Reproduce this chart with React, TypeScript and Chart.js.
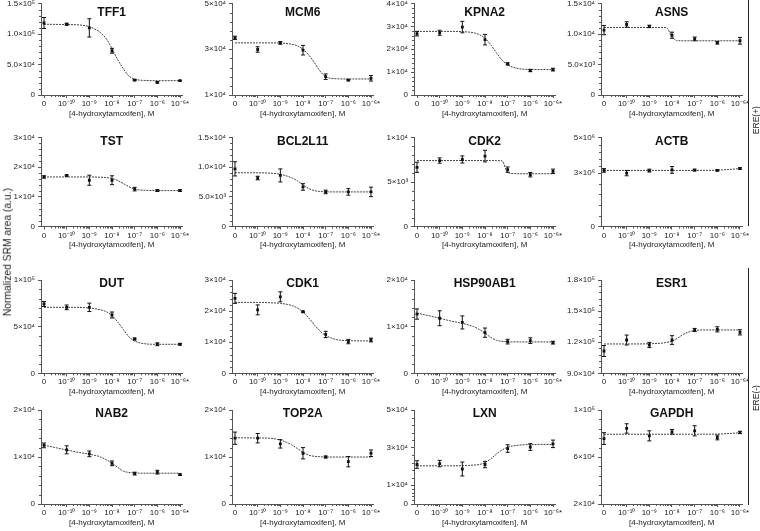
import React, { useEffect, useRef } from "react";
import { Chart, registerables } from "chart.js";

Chart.register(...registerables);

// ---------------- data ----------------
const genes = ["TFF1", "MCM6", "KPNA2", "ASNS", "TST", "BCL2L11", "CDK2", "ACTB", "DUT", "CDK1", "HSP90AB1", "ESR1", "NAB2", "TOP2A", "LXN", "GAPDH"];
const doseLabels = ["0", "10⁻¹⁰", "10⁻⁹", "10⁻⁸", "10⁻⁷", "10⁻⁶", "10⁻⁶*"];
const dosePositions = [0, 1, 2, 3, 4, 5, 6];
const xAxisTitle = "[4-hydroxytamoxifen], M";
const yAxisTitle = "Normalized SRM area (a.u.)";
const groupLabels = ["ERE(+)", "ERE(-)"];

const yTicks = [
  [0, 50000, 100000, 150000],
  [10000, 30000, 50000],
  [0, 10000, 20000, 30000, 40000],
  [0, 5000, 10000, 15000],
  [0, 10000, 20000, 30000],
  [0, 5000, 10000, 15000],
  [0, 5000, 10000],
  [0, 3000000, 5000000],
  [0, 50000, 100000],
  [0, 10000, 20000, 30000],
  [0, 10000, 20000],
  [90000, 120000, 150000, 180000],
  [0, 10000, 20000],
  [0, 10000, 20000],
  [0, 10000, 30000, 50000],
  [20000, 60000, 100000],
];
const yTickLabels = [
  ["0", "5.0×10⁴", "1.0×10⁵", "1.5×10⁵"],
  ["1×10⁴", "3×10⁴", "5×10⁴"],
  ["0", "1×10⁴", "2×10⁴", "3×10⁴", "4×10⁴"],
  ["0", "5.0×10³", "1.0×10⁴", "1.5×10⁴"],
  ["0", "1×10⁴", "2×10⁴", "3×10⁴"],
  ["0", "5.0×10³", "1.0×10⁴", "1.5×10⁴"],
  ["0", "5×10³", "1×10⁴"],
  ["0", "3×10⁶", "5×10⁶"],
  ["0", "5×10⁴", "1×10⁵"],
  ["0", "1×10⁴", "2×10⁴", "3×10⁴"],
  ["0", "1×10⁴", "2×10⁴"],
  ["9.0×10⁴", "1.2×10⁵", "1.5×10⁵", "1.8×10⁵"],
  ["0", "1×10⁴", "2×10⁴"],
  ["0", "1×10⁴", "2×10⁴"],
  ["0", "1×10⁴", "3×10⁴", "5×10⁴"],
  ["2×10⁴", "6×10⁴", "1×10⁵"],
];

const means = [
  [118000, 116000, 110000, 72500, 24500, 20700, 23500],
  [35000, 29900, 32800, 29600, 18000, 16500, 17300],
  [26800, 27200, 29700, 24200, 13600, 10700, 11100],
  [10640, 11560, 11240, 9800, 9200, 8560, 8890],
  [16700, 17200, 15600, 15600, 12600, 12100, 12100],
  [9720, 8170, 8610, 6670, 5830, 5830, 5830],
  [6650, 7410, 7530, 7910, 6390, 5820, 6200],
  [3150000, 3000000, 3140000, 3180000, 3170000, 3150000, 3260000],
  [74300, 70700, 70700, 62500, 36800, 31100, 31100],
  [24100, 20400, 24600, 19800, 12500, 10200, 10700],
  [12700, 11800, 10900, 8710, 6790, 7000, 6570],
  [111500, 122100, 117300, 122100, 131800, 132400, 129500],
  [12470, 11530, 10670, 8650, 6470, 6770, 6240],
  [14000, 14000, 12800, 10800, 10000, 9000, 10800],
  [21000, 21500, 18600, 21000, 29500, 30300, 32000],
  [75700, 84300, 78000, 81400, 82300, 76600, 80900],
];
const errors = [
  [9000, 1500, 15000, 4000, 1000, 1200, 600],
  [700, 1200, 600, 2100, 1200, 300, 1200],
  [1000, 1100, 2500, 2300, 500, 500, 600],
  [760, 450, 200, 500, 300, 200, 550],
  [400, 200, 1700, 1500, 600, 300, 300],
  [1200, 300, 1100, 550, 300, 550, 800],
  [570, 300, 400, 650, 300, 250, 250],
  [100000, 150000, 80000, 190000, 50000, 30000, 40000],
  [2700, 2500, 4500, 3200, 1000, 1500, 800],
  [1600, 1600, 1600, 200, 1000, 700, 600],
  [1100, 1600, 1400, 1000, 500, 600, 300],
  [5300, 4800, 2500, 4200, 1500, 2500, 2500],
  [500, 850, 600, 500, 300, 400, 150],
  [1300, 1000, 900, 1200, 200, 1100, 700],
  [2000, 1700, 3700, 1700, 2000, 1800, 2000],
  [5000, 4000, 4300, 2000, 4300, 2000, 1000],
];

// fitted curves at these dose positions
const curveX = [0, 1, 1.5, 2, 2.5, 2.75, 3, 3.25, 3.5, 3.75, 4, 4.5, 5, 6];
const curves = [
  [116000, 115500, 115000, 112000, 102000, 92000, 76000, 58000, 43000, 31000, 26000, 23800, 23500, 23500],
  [32800, 32800, 32800, 32700, 32200, 31500, 30000, 27500, 24200, 20500, 18000, 17100, 17000, 17000],
  [27800, 27800, 27800, 27700, 27200, 26400, 24800, 22000, 18500, 15300, 13200, 11500, 11200, 11100],
  [11070, 11070, 11070, 11070, 11070, 11050, 9550, 8900, 8890, 8890, 8890, 8890, 8890, 8890],
  [16700, 16700, 16700, 16700, 16600, 16500, 16200, 15500, 14500, 13400, 12600, 12200, 12100, 12100],
  [9060, 9050, 9000, 8800, 8200, 7700, 7000, 6400, 6050, 5900, 5850, 5830, 5830, 5830],
  [7410, 7410, 7410, 7410, 7410, 7410, 7410, 7410, 7400, 7380, 6050, 5930, 5930, 5930],
  [3150000, 3150000, 3150000, 3150000, 3150000, 3150000, 3150000, 3150000, 3150000, 3150000, 3150000, 3152000, 3165000, 3250000],
  [70700, 70700, 70600, 70000, 68000, 66000, 62000, 55000, 47000, 39000, 34500, 31500, 31100, 31100],
  [22800, 22800, 22700, 22500, 21800, 21000, 19700, 17800, 15600, 13600, 12200, 10800, 10500, 10400],
  [12900, 11800, 11200, 10700, 10000, 9400, 8600, 7700, 7100, 6850, 6750, 6720, 6720, 6720],
  [118300, 118300, 118300, 118500, 119000, 119700, 121000, 124000, 127500, 130000, 131300, 131800, 131800, 131800],
  [12500, 11500, 11000, 10600, 10000, 9400, 8700, 7800, 7000, 6700, 6600, 6550, 6550, 6550],
  [14100, 14050, 14000, 13600, 12600, 11800, 11000, 10400, 10150, 10050, 10000, 10000, 10000, 10000],
  [20300, 20300, 20300, 20400, 20700, 21000, 22000, 24000, 26500, 28700, 30200, 31300, 31600, 31700],
  [79400, 79400, 79400, 79400, 79400, 79400, 79400, 79400, 79400, 79400, 79400, 79420, 79500, 80600],
];

// ---------------- layout / style ----------------
const FONT = "'Liberation Sans', Arial, Helvetica, sans-serif";
const AXIS = "#555";
const TEXT = "#222";
const X_MIN = -0.13;
const X_MAX = 6.1;
const colX0 = [44, 235, 417, 604];
const colX6 = [180, 371, 553, 740];
const rowTop = [3.5, 137.5, 280, 410];
const rowBottom = [95, 226.5, 373.3, 504];
const titleOffset = [9.5, 4.5, 3.5, 4];
const YW = 48;
const XH = 14;

function geometry(p: number) {
  const r = Math.floor(p / 4);
  const c = p % 4;
  const s = (colX6[c] - colX0[c]) / 6;
  const plotLeft = colX0[c] + X_MIN * s;
  const plotRight = colX0[c] + X_MAX * s;
  const left = Math.floor(plotLeft - YW);
  const width = Math.ceil(plotRight + 12 - left);
  const top = Math.floor(rowTop[r] - 8);
  const height = Math.ceil(rowBottom[r] + XH + 16 - top);
  return {
    r,
    left,
    top,
    width,
    height,
    padL: plotLeft - YW - left,
    padR: width - (plotRight - left),
    padT: rowTop[r] - top,
    padB: height - (rowBottom[r] - top) - XH,
  };
}

function Panel({ p }: { p: number }) {
  const ref = useRef<HTMLCanvasElement>(null);
  const g = geometry(p);
  useEffect(() => {
    const canvas = ref.current;
    if (!canvas) return;
    const ticksY = yTicks[p];
    const deco = {
      id: "deco",
      afterDatasetsDraw(chart: any) {
        const { ctx, scales } = chart;
        const x = scales.x;
        const y = scales.y;
        ctx.save();
        ctx.strokeStyle = "#111";
        ctx.lineWidth = 1;
        ctx.beginPath();
        dosePositions.forEach((d, i) => {
          const px = x.getPixelForValue(d);
          const t = y.getPixelForValue(means[p][i] + errors[p][i]);
          const b = y.getPixelForValue(means[p][i] - errors[p][i]);
          ctx.moveTo(px, t);
          ctx.lineTo(px, b);
          ctx.moveTo(px - 2, t);
          ctx.lineTo(px + 2, t);
          ctx.moveTo(px - 2, b);
          ctx.lineTo(px + 2, b);
        });
        ctx.stroke();
        ctx.restore();
      },
      afterDraw(chart: any) {
        const { ctx, chartArea: a, scales } = chart;
        const x = scales.x;
        const y = scales.y;
        ctx.save();
        ctx.strokeStyle = AXIS;
        ctx.lineWidth = 1;
        ctx.beginPath();
        for (let k = 0; k < 6; k++) {
          for (let m = 2; m <= 9; m++) {
            const px = Math.round(x.getPixelForValue(k + Math.log10(m))) + 0.5;
            ctx.moveTo(px, a.bottom);
            ctx.lineTo(px, a.bottom + 2);
          }
        }
        for (let j = 0; j < ticksY.length - 1; j++) {
          const st = (ticksY[j + 1] - ticksY[j]) / 5;
          for (let q = 1; q < 5; q++) {
            const py = Math.round(y.getPixelForValue(ticksY[j] + q * st)) + 0.5;
            ctx.moveTo(a.left - 2, py);
            ctx.lineTo(a.left, py);
          }
        }
        ctx.stroke();
        const cx = (a.left + a.right) / 2;
        ctx.fillStyle = "#111";
        ctx.textAlign = "center";
        ctx.textBaseline = "middle";
        ctx.font = `bold 12px ${FONT}`;
        ctx.fillText(genes[p], cx, a.top + titleOffset[g.r]);
        ctx.fillStyle = TEXT;
        ctx.font = `8px ${FONT}`;
        ctx.fillText(xAxisTitle, cx, a.bottom + 18.5);
        ctx.restore();
      },
    };
    const chart = new Chart(canvas, {
      type: "scatter",
      data: {
        datasets: [
          {
            type: "line",
            data: curveX.map((cxv, i) => ({ x: cxv, y: curves[p][i] })),
            borderColor: "#444",
            borderWidth: 1,
            borderDash: [2, 1],
            pointRadius: 0,
            cubicInterpolationMode: "monotone",
            fill: false,
            order: 2,
          } as any,
          {
            type: "scatter",
            data: dosePositions.map((d, i) => ({ x: d, y: means[p][i] })),
            pointStyle: "rect",
            pointRadius: 2,
            backgroundColor: "#111",
            borderColor: "#111",
            borderWidth: 0,
            order: 1,
          } as any,
        ],
      },
      options: {
        animation: false,
        responsive: false,
        maintainAspectRatio: false,
        devicePixelRatio: 1,
        events: [],
        layout: { padding: { top: g.padT, left: g.padL, right: g.padR, bottom: g.padB } },
        plugins: { legend: { display: false }, tooltip: { enabled: false }, title: { display: false } },
        scales: {
          x: {
            type: "linear",
            min: X_MIN,
            max: X_MAX,
            afterFit(s: any) {
              s.height = XH;
            },
            afterBuildTicks(s: any) {
              s.ticks = dosePositions.map((v) => ({ value: v }));
            },
            ticks: {
              autoSkip: false,
              maxRotation: 0,
              minRotation: 0,
              padding: 1,
              color: TEXT,
              font: { family: FONT, size: 8 },
              callback: (_v: any, i: number) => doseLabels[i],
            },
            grid: { drawOnChartArea: false, drawTicks: true, tickLength: 3, color: AXIS, lineWidth: 1 },
            border: { display: true, color: AXIS, width: 1 },
          },
          y: {
            type: "linear",
            min: ticksY[0],
            max: ticksY[ticksY.length - 1],
            afterFit(s: any) {
              s.width = YW;
            },
            afterBuildTicks(s: any) {
              s.ticks = ticksY.map((v) => ({ value: v }));
            },
            ticks: {
              autoSkip: false,
              padding: 3,
              color: TEXT,
              font: { family: FONT, size: 8 },
              callback: (_v: any, i: number) => yTickLabels[p][i],
            },
            grid: { drawOnChartArea: false, drawTicks: true, tickLength: 3, color: AXIS, lineWidth: 1 },
            border: { display: true, color: AXIS, width: 1 },
          },
        },
      } as any,
      plugins: [deco],
    });
    return () => chart.destroy();
  }, [p]);
  return (
    <canvas
      ref={ref}
      width={g.width}
      height={g.height}
      style={{ position: "absolute", left: g.left, top: g.top, width: g.width, height: g.height }}
    />
  );
}

function RotatedText({ text, cx, cy, size }: { text: string; cx: number; cy: number; size: number }) {
  return (
    <div
      style={{
        position: "absolute",
        left: cx - 120,
        top: cy - size * 0.6,
        width: 240,
        height: size * 1.2,
        lineHeight: `${size * 1.2}px`,
        textAlign: "center",
        fontSize: size,
        fontFamily: FONT,
        color: TEXT,
        transform: "rotate(-90deg)",
        transformOrigin: "50% 50%",
        whiteSpace: "nowrap",
      }}
    >
      {text}
    </div>
  );
}

export default function App() {
  return (
    <div
      style={{
        position: "absolute",
        left: 0,
        top: 0,
        width: 760,
        height: 531,
        background: "#fff",
        overflow: "hidden",
      }}
    >
      {genes.map((_, p) => (
        <Panel key={p} p={p} />
      ))}
      <RotatedText text={yAxisTitle} cx={7.5} cy={252} size={10.3} />
      <div style={{ position: "absolute", left: 747.5, top: 0, width: 1.4, height: 226, background: "#222" }} />
      <div style={{ position: "absolute", left: 747.5, top: 268, width: 1.4, height: 237, background: "#222" }} />
      <RotatedText text={groupLabels[0]} cx={755.5} cy={120} size={8.5} />
      <RotatedText text={groupLabels[1]} cx={755.5} cy={398} size={8.5} />
    </div>
  );
}
